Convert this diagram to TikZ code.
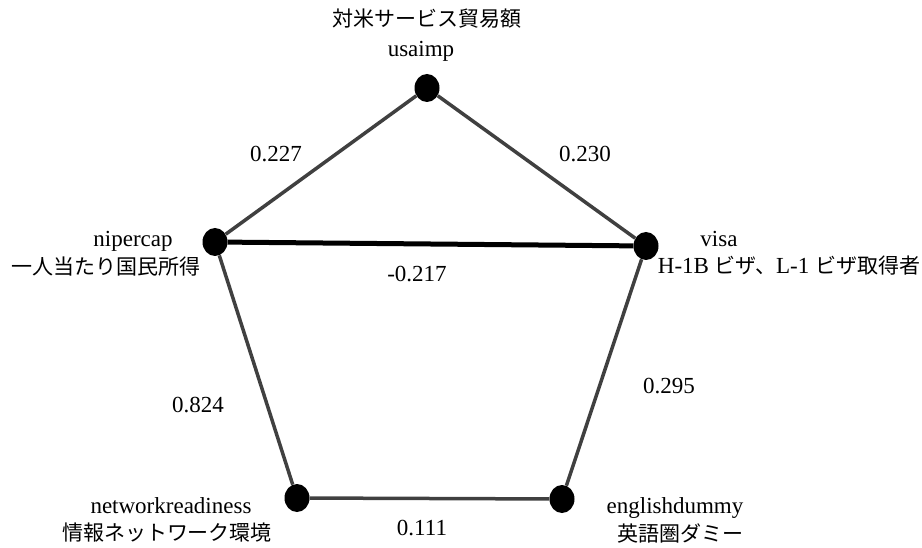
\documentclass[tikz,border=0pt]{standalone}
\usepackage{fontspec}
\setmainfont{Liberation Serif}
\newfontfamily\cjk[Scale=0.913]{Noto Sans CJK JP}
\usetikzlibrary{shapes.geometric}
\begin{document}
\begin{tikzpicture}[x=1pt,y=-1pt,
  vert/.style={ellipse, fill=black, minimum width=25pt, minimum height=28pt, inner sep=0pt},
  conn/.style={draw=black!75, line width=3.5pt},
  strongconn/.style={draw=black, line width=5pt},
  lbl/.style={anchor=base, inner sep=0pt, font=\fontsize{23}{27}\selectfont},
  jlbl/.style={anchor=base, inner sep=0pt, font=\fontsize{23}{27}\selectfont\cjk}]
\useasboundingbox (0,0) rectangle (922,548);
% vertices
\node[vert] (u) at (427,88) {};
\node[vert] (n) at (215,242) {};
\node[vert] (v) at (646,246) {};
\node[vert] (w) at (297,498) {};
\node[vert] (e) at (562,499) {};
% edges
\draw[conn] (u) -- (n);
\draw[conn] (u) -- (v);
\draw[strongconn] (n) -- (v);
\draw[conn] (n) -- (w);
\draw[conn] (v) -- (e);
\draw[conn] (w) -- (e);
% vertex labels
\node[jlbl] (ujp) at (427,27) {対米サービス貿易額};
\node[lbl] (uen) at (421,57) {usaimp};
\node[lbl] (nen) at (133,247) {nipercap};
\node[jlbl] (njp) at (106,275) {一人当たり国民所得};
\node[lbl] (ven) at (719,247) {visa};
\node[lbl] (vjp) at (789,274) {H-1B {\cjk ビザ、}L-1 {\cjk ビザ取得者}};
\node[lbl] (wen) at (171,513) {networkreadiness};
\node[jlbl] (wjp) at (167,540) {情報ネットワーク環境};
\node[lbl] (een) at (675,513) {englishdummy};
\node[jlbl] (ejp) at (680,541) {英語圏ダミー};
% edge labels
\node[lbl] (l1) at (276,162) {0.227};
\node[lbl] (l2) at (585,162) {0.230};
\node[lbl] (l3) at (417,282) {-0.217};
\node[lbl] (l4) at (198,412) {0.824};
\node[lbl] (l5) at (669,393) {0.295};
\node[lbl] (l6) at (422,535) {0.111};
\end{tikzpicture}
\end{document}
